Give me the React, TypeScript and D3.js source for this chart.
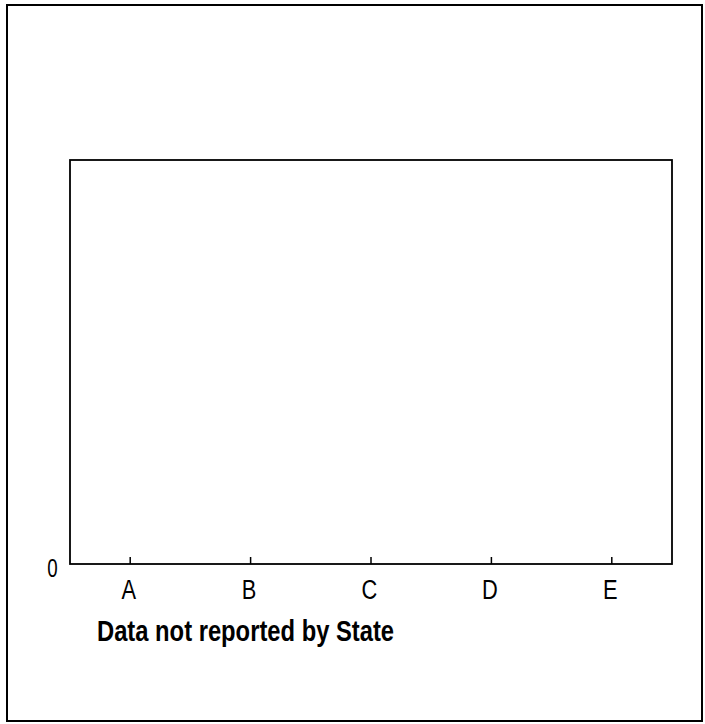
import React from "react";
import * as d3 from "d3";

const categories: string[] = ["A", "B", "C", "D", "E"];
const values: (number | null)[] = [null, null, null, null, null];
const yTicks: number[] = [0];
const title = "Data not reported by State";

const W = 705;
const H = 724;
const plot = { left: 70, right: 672, top: 160, bottom: 564 };

function squeeze(x: number, y: number, sx: number) {
  return `translate(${x},${y}) scale(${sx},1) translate(${-x},${-y})`;
}

export default function App() {
  const x = d3.scaleBand<string>().domain(categories).range([plot.left, plot.right]).padding(0);
  const y = d3.scaleLinear().domain([0, 1]).range([plot.bottom, plot.top]);

  return (
    <svg width={W} height={H} style={{ position: "absolute", left: 0, top: 0, background: "#fff" }}>
      <rect x={7} y={5} width={695} height={716} fill="#fff" stroke="#000" strokeWidth={2} />
      <rect
        x={plot.left}
        y={plot.top}
        width={plot.right - plot.left}
        height={plot.bottom - plot.top}
        fill="none"
        stroke="#000"
        strokeWidth={1.8}
      />
      {categories.map((c, i) => {
        const cx = (x(c) ?? 0) + x.bandwidth() / 2;
        const v = values[i];
        const lx = cx - 1.5;
        return (
          <g key={c}>
            {v != null && (
              <rect x={x(c)} y={y(v)} width={x.bandwidth()} height={plot.bottom - y(v)} fill="#000" />
            )}
            <line x1={cx} x2={cx} y1={plot.bottom} y2={plot.bottom - 7} stroke="#000" strokeWidth={1.5} />
            <text
              x={lx}
              y={599}
              textAnchor="middle"
              fontFamily="'Liberation Sans', Arial, sans-serif"
              fontSize={28}
              fill="#000"
              transform={squeeze(lx, 599, 0.78)}
            >
              {c}
            </text>
          </g>
        );
      })}
      {yTicks.map((t) => (
        <text
          key={t}
          x={52.5}
          y={y(t) + 13}
          textAnchor="middle"
          fontFamily="'Liberation Sans', Arial, sans-serif"
          fontSize={25}
          fill="#000"
          transform={squeeze(52.5, y(t) + 13, 0.75)}
        >
          {t}
        </text>
      ))}
      <text
        x={97}
        y={641}
        fontFamily="'Liberation Sans', Arial, sans-serif"
        fontWeight="bold"
        fontSize={29}
        fill="#000"
        transform={squeeze(97, 641, 0.82)}
      >
        {title}
      </text>
    </svg>
  );
}
